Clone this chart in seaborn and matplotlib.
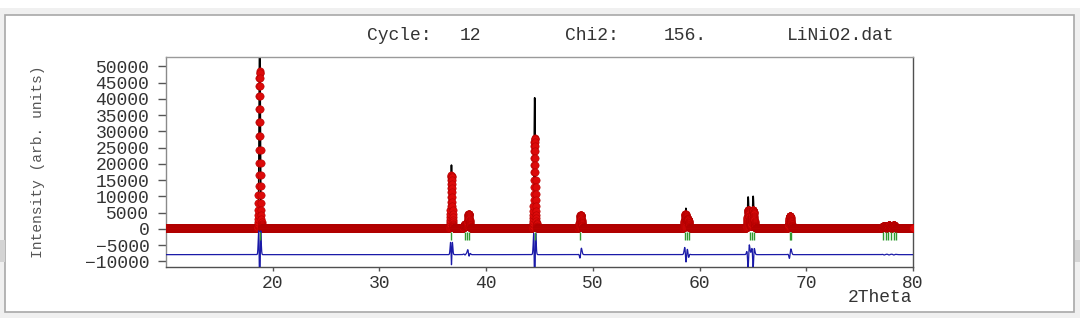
import numpy as np
import pandas as pd
import matplotlib
matplotlib.use("Agg")
import matplotlib.pyplot as plt
from matplotlib.patches import Rectangle
import seaborn as sns

# ---------------- data ----------------
theta_min, theta_max, theta_step = 10.0, 80.0, 0.01
background = 150.0
peak_obs_pos = [18.78, 36.75, 38.02, 38.36, 44.55, 48.86, 58.68, 58.92, 64.58, 65.02, 68.48, 77.30, 77.75, 78.20]
peak_calc_pos = [18.78, 36.75, 38.02, 38.38, 44.55, 48.82, 58.72, 58.96, 64.55, 65.02, 68.44, 77.30, 77.75, 78.20]
peak_obs_height = [48300, 16400, 1300, 4500, 27700, 4200, 4300, 2800, 5700, 5700, 3900, 900, 1000, 1000]
peak_calc_height = [62000, 19500, 1400, 4700, 40200, 4500, 6200, 3200, 9700, 9900, 4500, 1000, 1100, 1100]
peak_obs_fwhm = [0.16, 0.16, 0.20, 0.20, 0.17, 0.20, 0.20, 0.20, 0.22, 0.22, 0.22, 0.26, 0.26, 0.26]
peak_calc_fwhm = [0.12, 0.11, 0.16, 0.15, 0.11, 0.15, 0.13, 0.14, 0.12, 0.12, 0.16, 0.22, 0.22, 0.22]
bragg_pos = [18.78, 36.75, 38.00, 38.20, 38.44, 44.55, 48.84, 58.64, 58.80, 58.99,
             64.68, 64.87, 65.09, 68.45, 68.60, 77.20, 77.45, 77.70, 77.95, 78.20, 78.45]
diff_offset = -7900
bragg_level = -2200
y_ticks = [-10000, -5000, 0, 5000, 10000, 15000, 20000, 25000, 30000, 35000, 40000, 45000, 50000]
x_ticks = [20, 30, 40, 50, 60, 70, 80]
title_words = ["Cycle:", "12", "Chi2:", "156.", "LiNiO2.dat"]
title_word_x = [399, 470, 592, 685, 841]   # pixel centres of the words

# ---------------- profiles (Rietveld-like peak model) ----------------
tth = np.arange(theta_min, theta_max + theta_step / 2, theta_step)


def profile(pos, height, fwhm):
    y = np.full_like(tth, background)
    for p, h, w in zip(pos, height, fwhm):
        y += h * np.exp(-4 * np.log(2) * (tth - p) ** 2 / w ** 2)
    return y


y_obs = profile(peak_obs_pos, peak_obs_height, peak_obs_fwhm)
y_calc = profile(peak_calc_pos, peak_calc_height, peak_calc_fwhm)
df = pd.DataFrame({"tth": tth, "obs": y_obs, "calc": y_calc,
                   "diff": y_obs - y_calc + diff_offset})
bragg = pd.DataFrame({"tth": bragg_pos, "y": [bragg_level] * len(bragg_pos)})

# ---------------- figure ----------------
sns.set_style("ticks")
plt.rcParams["font.family"] = ["Liberation Mono", "DejaVu Sans Mono"]

W, H = 1080, 318
fig = plt.figure(figsize=(W / 100, H / 100), dpi=100, facecolor="#f0f0f0")

# window chrome
fig.add_artist(Rectangle((0, 1 - 8 / H), 1, 8 / H, transform=fig.transFigure,
                         facecolor="white", edgecolor="none", zorder=0))
fig.add_artist(Rectangle((5 / W, 1 - 312 / H), (1074 - 5) / W, (312 - 15) / H,
                         transform=fig.transFigure, facecolor="white",
                         edgecolor="#a8a8a8", lw=1.2, zorder=0))
fig.add_artist(Rectangle((0, 1 - 262 / H), 5 / W, 22 / H, transform=fig.transFigure,
                         facecolor="#d4d4d4", edgecolor="none", zorder=0))
fig.add_artist(Rectangle((1075 / W, 1 - 262 / H), 5 / W, 22 / H, transform=fig.transFigure,
                         facecolor="#d4d4d4", edgecolor="none", zorder=0))

ax = fig.add_axes([166 / W, 1 - 267 / H, (913 - 166) / W, (267 - 57) / H])
ax.set_facecolor("white")

sns.lineplot(data=df, x="tth", y="calc", ax=ax, color="black", lw=1.2,
             estimator=None, sort=False, zorder=2)
sns.scatterplot(data=df, x="tth", y="obs", ax=ax, s=28, color="#dc0a0a",
                edgecolor="#b00000", linewidth=0.35, zorder=3)
sns.lineplot(data=df, x="tth", y="diff", ax=ax, color="#1a1aa8", lw=0.9,
             estimator=None, sort=False, zorder=4)
sns.scatterplot(data=bragg, x="tth", y="y", ax=ax, marker="|", s=40,
                color="#2f9a2f", linewidth=1.0, zorder=4)

ax.set_xlim(theta_min, theta_max)
ax.set_ylim(-11700, 52900)
ax.set_xticks(x_ticks)
ax.set_yticks(y_ticks)
ax.set_yticklabels([str(v).replace("-", "\u2212") for v in y_ticks])
ax.tick_params(axis="y", length=6, width=1, pad=6, labelsize=13,
               colors="#555555", labelcolor="#333333")
ax.tick_params(axis="x", length=3, width=1, pad=3, labelsize=13,
               colors="#555555", labelcolor="#333333")
for side, sp in ax.spines.items():
    sp.set_linewidth(1.0)
    sp.set_color("#505050")
ax.spines["top"].set_color("#9a9a9a")
ax.spines["left"].set_color("#8a8a8a")

ax.set_xlabel("")
ax.set_ylabel("")
fig.text(912 / W, 1 - 298 / H, "2Theta", ha="right", va="center",
         fontsize=13, color="#333333")
fig.text(38 / W, 1 - 162 / H, "Intensity (arb. units)", ha="center", va="center",
         rotation=90, fontsize=10.5, color="#555555")
for word, xc in zip(title_words, title_word_x):
    fig.text(xc / W, 1 - 35 / H, word, ha="center", va="center",
             fontsize=13, color="#333333")

fig.savefig("out.png", dpi=100, facecolor=fig.get_facecolor())
